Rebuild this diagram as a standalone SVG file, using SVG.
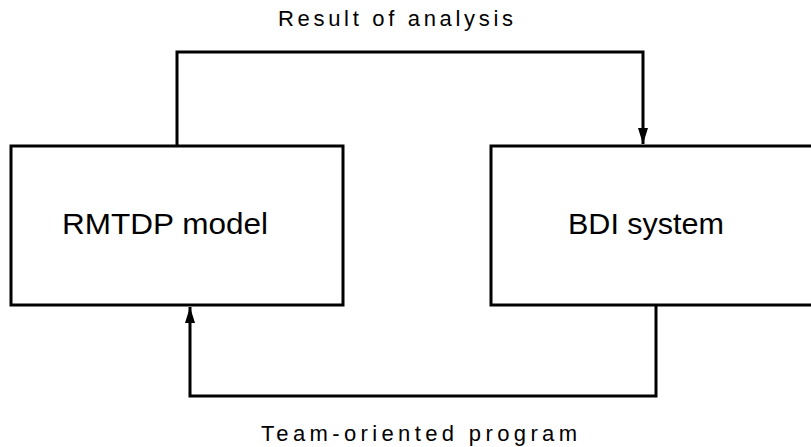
<svg xmlns="http://www.w3.org/2000/svg" width="811" height="447" viewBox="0 0 811 447">
<defs>
<style>
.box{fill:#fff;stroke:#000;stroke-width:3}
.conn{fill:none;stroke:#000;stroke-width:3}
.lbl{font-family:"Liberation Sans",Arial,sans-serif;font-size:22px;fill:#000}
.node{font-family:"Liberation Sans",Arial,sans-serif;font-size:30px;fill:#000}
</style>
<marker id="ah" viewBox="0 0 16 10" markerWidth="16" markerHeight="10" refX="16" refY="5" orient="auto" markerUnits="userSpaceOnUse">
<path d="M0,0 L16,5 L0,10 Z" fill="#000"/>
</marker>
</defs>
<g id="rmtdp">
<rect class="box" x="11" y="146" width="332" height="159"/>
<text class="node" x="165" y="234" text-anchor="middle" textLength="206" lengthAdjust="spacingAndGlyphs">RMTDP model</text>
</g>
<g id="bdi">
<rect class="box" x="491" y="146" width="330" height="159"/>
<text class="node" x="646" y="234" text-anchor="middle" textLength="156" lengthAdjust="spacingAndGlyphs">BDI system</text>
</g>
<g id="connectors">
<path class="conn" d="M177,146 V52 H643 V144" marker-end="url(#ah)"/>
<path class="conn" d="M656,305 V396 H190 V307" marker-end="url(#ah)"/>
<text class="lbl" x="278" y="26" textLength="235" lengthAdjust="spacing">Result of analysis</text>
<text class="lbl" x="261" y="441" textLength="316" lengthAdjust="spacing">Team-oriented program</text>
</g>
</svg>
